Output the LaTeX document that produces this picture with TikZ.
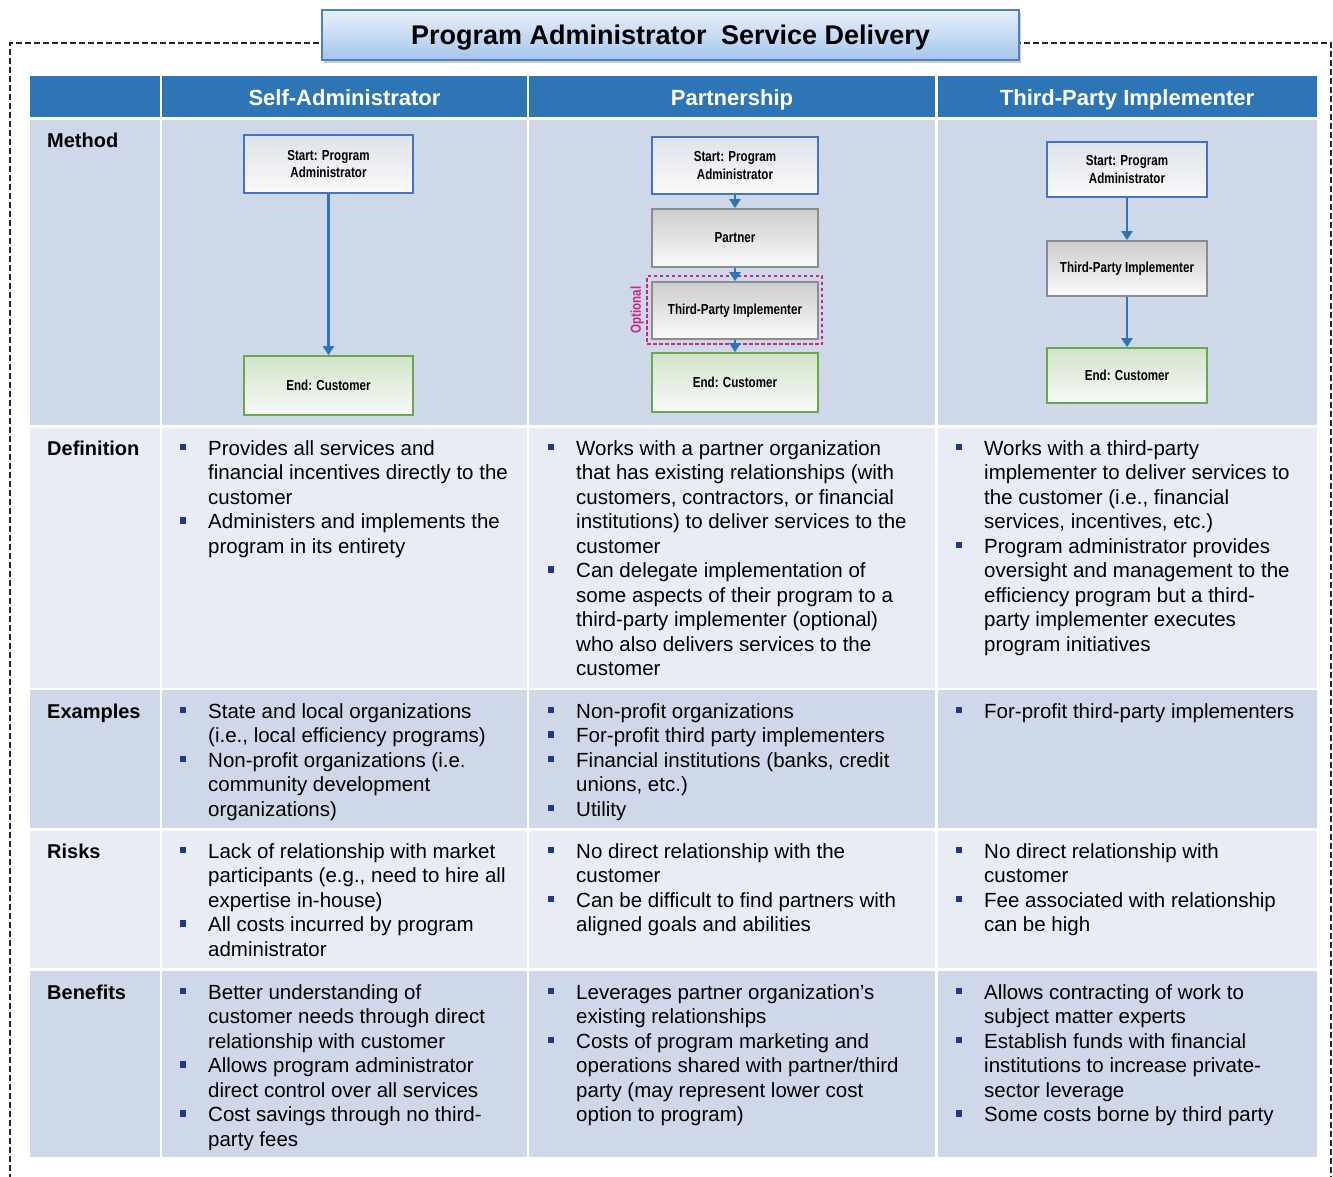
\documentclass[tikz,border=0pt]{standalone}
\usepackage{fontspec}
\setmainfont{Liberation Sans}
\newfontfamily\boxfont{Liberation Sans}[FakeStretch=0.8]
\usetikzlibrary{arrows.meta,shadows}
\definecolor{hdr}{RGB}{46,117,182}
\definecolor{rowdark}{RGB}{207,216,233}
\definecolor{rowlight}{RGB}{232,236,245}
\definecolor{bulc}{RGB}{31,56,140}
\definecolor{startc}{RGB}{68,114,196}
\definecolor{startTop}{RGB}{222,226,234}
\definecolor{grayc}{RGB}{140,140,140}
\definecolor{grayTop}{RGB}{205,205,205}
\definecolor{greenc}{RGB}{106,168,79}
\definecolor{greenTop}{RGB}{210,228,202}
\definecolor{arrc}{RGB}{46,117,182}
\definecolor{optc}{RGB}{200,40,130}
\definecolor{titleb}{RGB}{79,129,189}
\definecolor{titleTop}{RGB}{232,240,251}
\definecolor{titleBot}{RGB}{165,197,236}
\newcommand\bl[1]{\hbox{\llap{\textcolor{bulc}{\rule[5pt]{6.5pt}{6.5pt}}\hspace{22pt}}#1}}
\newcommand\cn[1]{\hbox{#1}}
\newcommand\ctext[1]{\vtop{\baselineskip=24.5pt\lineskiplimit=-20pt #1}}
\begin{document}
\begin{tikzpicture}[x=1pt,y=-1pt,
  fcbox/.style={line width=1.7pt, minimum width=#1, align=center, inner sep=0pt,
    font=\boxfont\bfseries\fontsize{14.5}{17.5}\selectfont},
  startbox/.style={fcbox=#1, draw=startc, top color=startTop, bottom color=white!96!gray},
  graybox/.style={fcbox=#1, draw=grayc, top color=grayTop, bottom color=white!96!gray},
  endbox/.style={fcbox=#1, draw=greenc, top color=greenTop, bottom color=white!95!gray},
  arr/.style={draw=arrc, line width=2.4pt, -{Triangle[width=11pt,length=9pt]}},
  hdrtext/.style={anchor=base, text=white, font=\bfseries\fontsize{22}{26}\selectfont, inner sep=0pt},
  lbl/.style={anchor=base west, inner sep=0pt, font=\bfseries\fontsize{20}{24}\selectfont},
  body/.style={anchor=base west, inner sep=0pt, font=\fontsize{20.5}{24.5}\selectfont},
  frame/.style={draw=black!85, line width=1.1pt, dash pattern=on 6pt off 3pt}
]
\useasboundingbox (0,0) rectangle (1333,1177);
\fill[white] (0,0) rectangle (1333,1177);
% dashed frame
\draw[frame] (10,1180) -- (10,43) -- (1331,43) -- (1331,1180);
% title
\node[draw=titleb, line width=1.3pt, top color=titleTop, bottom color=titleBot,
  minimum width=697, minimum height=50, inner sep=0pt,
  drop shadow={shadow xshift=2pt, shadow yshift=-3pt, fill=black!45, opacity=.45}] (title) at (670.5,35) {};
\node[anchor=base, inner sep=0pt, font=\bfseries\fontsize{27}{32}\selectfont] (titletext) at (670.5,45)
  {Program Administrator\hspace{7pt} Service Delivery};
% table cells
\foreach \ya/\yb/\c in {76/117/hdr,120/425/rowdark,428/688/rowlight,690/828/rowdark,831/968/rowlight,971/1157/rowdark}{
  \foreach \xa/\xb in {30/160,162/527,529/935,938/1317}{
    \fill[fill=\c] (\xa,\ya) rectangle (\xb,\yb);
  }
}
% header
\node[hdrtext] (h1) at (344.5,106) {Self-Administrator};
\node[hdrtext] (h2) at (732,106) {Partnership};
\node[hdrtext] (h3) at (1127,106) {Third-Party Implementer};
% row labels
\node[lbl] (lmethod) at (47,148) {Method};
\node[lbl] (ldef) at (47,455) {Definition};
\node[lbl] (lex) at (47,718) {Examples};
\node[lbl] (lrisk) at (47,858) {Risks};
\node[lbl] (lben) at (47,999) {Benefits};
% flowchart column 1
\node[startbox=169, minimum height=58] (s1) at (328.5,164) {Start: Program\\Administrator};
\node[endbox=169, minimum height=59] (e1) at (328.5,385.5) {End: Customer};
\draw[arr] (s1) -- (e1);
% flowchart column 2
\node[draw=optc, line width=1.8pt, dash pattern=on 3.5pt off 2.5pt, minimum width=175, minimum height=68, inner sep=0pt] (optbox) at (734.5,310) {};
\node[startbox=166, minimum height=57] (s2) at (735,165.5) {Start: Program\\Administrator};
\node[graybox=166, minimum height=58] (p2) at (735,238) {Partner};
\node[graybox=166, minimum height=57] (t2) at (735,310.5) {Third-Party Implementer};
\node[endbox=166, minimum height=59] (e2) at (735,382.5) {End: Customer};
\node[rotate=90, text=optc, inner sep=0pt, font=\boxfont\bfseries\fontsize{14.5}{16}\selectfont] (opt) at (637,310) {Optional};
\draw[arr] (s2) -- (p2);
\draw[arr] (p2) -- (t2);
\draw[arr] (t2) -- (e2);
% flowchart column 3
\node[startbox=160, minimum height=55] (s3) at (1127,169.5) {Start: Program\\Administrator};
\node[graybox=160, minimum height=55] (t3) at (1127,268.5) {Third-Party Implementer};
\node[endbox=160, minimum height=55] (e3) at (1127,375.5) {End: Customer};
\draw[arr] (s3) -- (t3);
\draw[arr] (t3) -- (e3);
% Definition
\node[body] (d1) at (208,455) {\ctext{%
\bl{Provides all services and}
\cn{financial incentives directly to the}
\cn{customer}
\bl{Administers and implements the}
\cn{program in its entirety}}};
\node[body] (d2) at (576,455) {\ctext{%
\bl{Works with a partner organization}
\cn{that has existing relationships (with}
\cn{customers, contractors, or financial}
\cn{institutions) to deliver services to the}
\cn{customer}
\bl{Can delegate implementation of}
\cn{some aspects of their program to a}
\cn{third-party implementer (optional)}
\cn{who also delivers services to the}
\cn{customer}}};
\node[body] (d3) at (984,455) {\ctext{%
\bl{Works with a third-party}
\cn{implementer to deliver services to}
\cn{the customer (i.e., financial}
\cn{services, incentives, etc.)}
\bl{Program administrator provides}
\cn{oversight and management to the}
\cn{efficiency program but a third-}
\cn{party implementer executes}
\cn{program initiatives}}};
% Examples
\node[body] (x1) at (208,718) {\ctext{%
\bl{State and local organizations}
\cn{(i.e., local efficiency programs)}
\bl{Non-profit organizations (i.e.}
\cn{community development}
\cn{organizations)}}};
\node[body] (x2) at (576,718) {\ctext{%
\bl{Non-profit organizations}
\bl{For-profit third party implementers}
\bl{Financial institutions (banks, credit}
\cn{unions, etc.)}
\bl{Utility}}};
\node[body] (x3) at (984,718) {\ctext{%
\bl{For-profit third-party implementers}}};
% Risks
\node[body] (r1) at (208,858) {\ctext{%
\bl{Lack of relationship with market}
\cn{participants (e.g., need to hire all}
\cn{expertise in-house)}
\bl{All costs incurred by program}
\cn{administrator}}};
\node[body] (r2) at (576,858) {\ctext{%
\bl{No direct relationship with the}
\cn{customer}
\bl{Can be difficult to find partners with}
\cn{aligned goals and abilities}}};
\node[body] (r3) at (984,858) {\ctext{%
\bl{No direct relationship with}
\cn{customer}
\bl{Fee associated with relationship}
\cn{can be high}}};
% Benefits
\node[body] (b1) at (208,999) {\ctext{%
\bl{Better understanding of}
\cn{customer needs through direct}
\cn{relationship with customer}
\bl{Allows program administrator}
\cn{direct control over all services}
\bl{Cost savings through no third-}
\cn{party fees}}};
\node[body] (b2) at (576,999) {\ctext{%
\bl{Leverages partner organization’s}
\cn{existing relationships}
\bl{Costs of program marketing and}
\cn{operations shared with partner/third}
\cn{party (may represent lower cost}
\cn{option to program)}}};
\node[body] (b3) at (984,999) {\ctext{%
\bl{Allows contracting of work to}
\cn{subject matter experts}
\bl{Establish funds with financial}
\cn{institutions to increase private-}
\cn{sector leverage}
\bl{Some costs borne by third party}}};
\end{tikzpicture}
\end{document}
